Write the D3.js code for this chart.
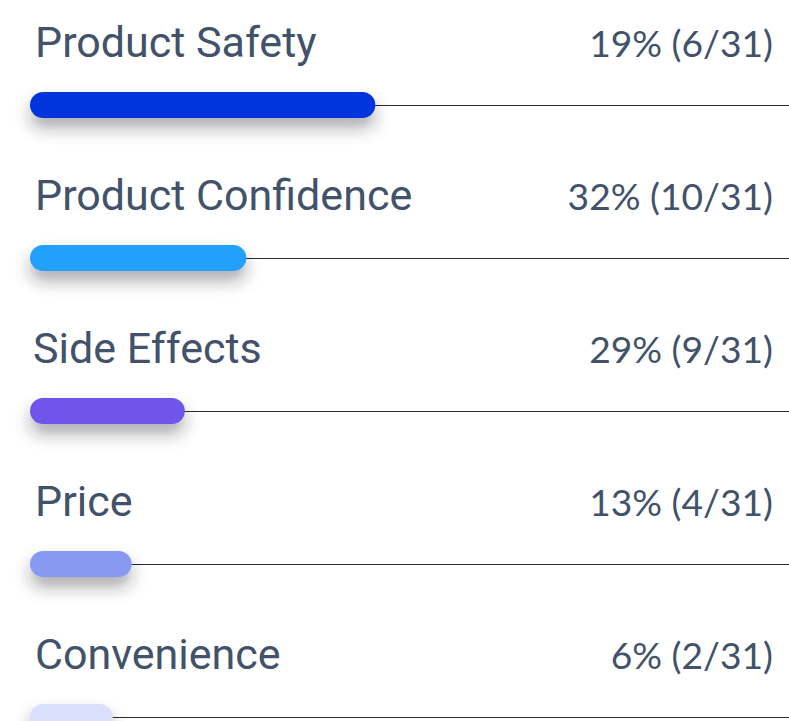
<!DOCTYPE html>
<html><head><meta charset="utf-8">
<script src="https://cdn.jsdelivr.net/npm/d3@7"></script>
<style>html,body{margin:0;padding:0;background:#fff;overflow:hidden}</style>
</head><body>
<svg id="chart" width="789" height="721"></svg>
<script>
const categories = ["Product Safety","Product Confidence","Side Effects","Price","Convenience"];
const percents = [19,32,29,13,6];
const counts = [6,10,9,4,2];
const total = 31;
const barValues = [45.5,28.5,20.4,13.4,10.9];
const colors = ["#0036db","#22a0fb","#6f55eb","#8899f1","#dadffb"];

const W = 789, H = 721;
const svg = d3.select("#chart");
const defs = svg.append("defs");
const f = defs.append("filter").attr("id","sh").attr("x","-30%").attr("y","-150%").attr("width","160%").attr("height","500%");
f.append("feDropShadow").attr("dx",0).attr("dy",10).attr("stdDeviation",8).attr("flood-color","#2a2435").attr("flood-opacity",0.38);

const x = d3.scaleLinear().domain([0,100]).range([30, W]);
const y = d3.scaleBand().domain(categories).range([0, 765]).paddingInner(0);
const barH = 26;
const textColor = "#41526a";
const labelX = d => d === "Side Effects" ? 33 : 35;

const g = svg.selectAll("g.row").data(categories).join("g").attr("class","row")
  .attr("transform", d => `translate(0,${Math.round(y(d))})`);

g.append("line").attr("x1", x(0)).attr("x2", W).attr("y1", 105.5).attr("y2", 105.5)
  .attr("stroke","#2b2b2b").attr("stroke-width",1);

g.append("rect").attr("x", x(0)).attr("y", 105 - barH/2)
  .attr("width", (d,i) => x(barValues[i]) - x(0)).attr("height", barH)
  .attr("rx", barH/2).attr("fill", (d,i) => colors[i]).attr("filter","url(#sh)");

g.append("text").attr("x", labelX).attr("y", 57).text(d => d)
  .attr("font-family","Roboto").attr("font-size",43).attr("fill",textColor);

g.append("text").attr("x", 773).attr("y", 57).attr("text-anchor","end")
  .text((d,i) => `${percents[i]}% (${counts[i]}/${total})`)
  .attr("font-family","Lato").attr("font-size",37.2).attr("fill",textColor);
</script>
</body></html>
